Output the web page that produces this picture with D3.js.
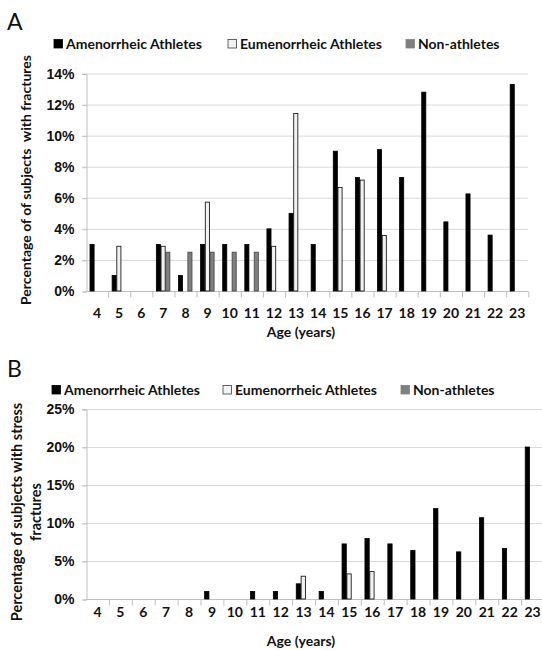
<!DOCTYPE html>
<html>
<head>
<meta charset="utf-8">
<script src="https://cdn.jsdelivr.net/npm/d3@7/dist/d3.min.js"></script>
<style>
  body { margin: 0; background: #fff; }
  svg { display: block; font-family: Lato, "Open Sans", sans-serif; }
  .tick text { font-weight: 700; }
</style>
</head>
<body>
<svg id="chart" width="542" height="650"></svg>
<script>
// categories
var ages = ["4","5","6","7","8","9","10","11","12","13","14","15","16","17","18","19","20","21","22","23"];
var seriesNames = ["Amenorrheic Athletes", "Eumenorrheic Athletes", "Non-athletes"];

// panel A: % of subjects with fractures
var amenA  = [3, 1, 0, 3, 1, 3, 3, 3, 4, 5, 3, 9, 7.3, 9.1, 7.3, 12.8, 4.45, 6.25, 3.6, 13.3];
var eumenA = [0, 2.88, 0, 2.88, 0, 5.72, 0, 0, 2.88, 11.43, 0, 6.67, 7.14, 3.57, 0, 0, 0, 0, 0, 0];
var nonA   = [0, 0, 0, 2.5, 2.5, 2.5, 2.5, 2.5, 0, 0, 0, 0, 0, 0, 0, 0, 0, 0, 0, 0];
var ticksA = [0, 2, 4, 6, 8, 10, 12, 14];

// panel B: % of subjects with stress fractures
var amenB  = [0, 0, 0, 0, 0, 1, 0, 1, 1, 2, 1, 7.25, 7.95, 7.25, 6.4, 11.9, 6.2, 10.7, 6.65, 20];
var eumenB = [0, 0, 0, 0, 0, 0, 0, 0, 0, 3, 0, 3.3, 3.6, 0, 0, 0, 0, 0, 0, 0];
var nonB   = [0, 0, 0, 0, 0, 0, 0, 0, 0, 0, 0, 0, 0, 0, 0, 0, 0, 0, 0, 0];
var ticksB = [0, 5, 10, 15, 20, 25];

var fills   = ["#000000", "#f2f2f2", "#808080"];
var strokes = ["#000000", "#000000", "#404040"];
var fontSize = "14px";

var svg = d3.select("#chart");

function drawPanel(opt) {
    var g = svg.append("g");

    var x0 = d3.scaleBand().domain(ages).range([86, opt.right]).padding(0);
    var x1 = d3.scaleBand().domain(seriesNames).range([0, x0.bandwidth()])
        .paddingInner(0).paddingOuter(0.85);
    var y = d3.scaleLinear().domain([0, opt.max]).range([opt.bottom, opt.top]);

    // gridlines
    g.selectAll(".grid")
        .data(opt.ticks.slice(1))
        .enter()
        .append("line")
        .attr("x1", 82).attr("x2", opt.right)
        .attr("y1", function(d) { return y(d) + 0.5; })
        .attr("y2", function(d) { return y(d) + 0.5; })
        .attr("stroke", "#d9d9d9");

    // y axis
    var yAxis = d3.axisLeft(y).tickValues(opt.ticks).tickSize(4).tickPadding(8)
        .tickFormat(function(d) { return d + "%"; });
    var ya = g.append("g").attr("transform", "translate(86.5,0.5)").call(yAxis);
    ya.select(".domain").attr("stroke", "#bfbfbf");
    ya.selectAll(".tick line").attr("stroke", "#bfbfbf");
    ya.selectAll(".tick text").attr("fill", "#111").style("font-size", fontSize);

    // x axis: ticks at category boundaries
    var xa = g.append("g").attr("transform", "translate(0," + (opt.bottom + 0.5) + ")");
    xa.append("line").attr("x1", 86).attr("x2", opt.right).attr("stroke", "#bfbfbf");
    xa.selectAll(".xtick")
        .data(ages)
        .enter()
        .append("line")
        .attr("x1", function(d) { return x0(d) + x0.bandwidth() + 0.5; })
        .attr("x2", function(d) { return x0(d) + x0.bandwidth() + 0.5; })
        .attr("y1", 0).attr("y2", 6)
        .attr("stroke", "#bfbfbf");
    xa.selectAll(".xlab")
        .data(ages)
        .enter()
        .append("text")
        .attr("x", function(d) { return x0(d) + x0.bandwidth() / 2; })
        .attr("y", opt.xLabelY - opt.bottom)
        .attr("text-anchor", "middle")
        .attr("fill", "#111")
        .style("font-size", fontSize)
        .style("font-weight", 700)
        .text(function(d) { return d; });

    // bars
    var rows = [];
    opt.values.forEach(function(vals, si) {
        vals.forEach(function(v, i) {
            if (v > 0) rows.push({ s: si, age: ages[i], v: v });
        });
    });
    g.selectAll(".bar")
        .data(rows)
        .enter()
        .append("rect")
        .attr("x", function(d) { return x0(d.age) + x1(seriesNames[d.s]); })
        .attr("y", function(d) { return y(d.v); })
        .attr("width", x1.bandwidth() - 0.6)
        .attr("height", function(d) { return y(0) - y(d.v); })
        .attr("fill", function(d) { return fills[d.s]; })
        .attr("stroke", function(d) { return strokes[d.s]; })
        .attr("stroke-width", 0.8);

    // legend
    var lg = g.selectAll(".leg")
        .data(seriesNames)
        .enter()
        .append("g")
        .attr("transform", function(d, i) { return "translate(" + opt.legendX[i] + "," + opt.legendY + ")"; });
    lg.append("rect")
        .attr("x", 0).attr("y", -4.5)
        .attr("width", 8.5).attr("height", 8.5)
        .attr("fill", function(d, i) { return fills[i]; })
        .attr("stroke", function(d, i) { return i == 1 ? "#404040" : fills[i]; })
        .attr("stroke-width", 0.8);
    lg.append("text")
        .attr("x", 12).attr("y", 5)
        .attr("fill", "#111")
        .style("font-size", fontSize)
        .style("font-weight", 700)
        .text(function(d) { return d; });

    // x title
    g.append("text")
        .attr("x", 301).attr("y", opt.xTitleY)
        .attr("text-anchor", "middle")
        .attr("fill", "#111")
        .style("font-size", fontSize)
        .style("font-weight", 700)
        .text("Age (years)");

    // y title
    opt.yTitle.forEach(function(line, i) {
        g.append("text")
            .attr("transform", "translate(" + opt.yTitleX[i] + "," + opt.yTitleY + ") rotate(-90)")
            .attr("text-anchor", "middle")
            .attr("fill", "#111")
            .style("font-size", opt.yTitleSize)
            .style("font-weight", 700)
            .style("white-space", "pre")
            .text(line);
    });

    // panel letter
    g.append("text")
        .attr("x", 7).attr("y", opt.letterY)
        .attr("fill", "#111")
        .style("font-size", "23px")
        .text(opt.letter);
}

drawPanel({
    letter: "A", letterY: 30,
    values: [amenA, eumenA, nonA], ticks: ticksA, max: 14,
    top: 73.5, bottom: 291, right: 528.3,
    legendY: 44, legendX: [54, 228, 406],
    xLabelY: 317, xTitleY: 337,
    yTitle: ["Percentage of of subjects  with fractures"], yTitleX: [31], yTitleY: 180, yTitleSize: "14px"
});

drawPanel({
    letter: "B", letterY: 377,
    values: [amenB, eumenB, nonB], ticks: ticksB, max: 25,
    top: 409, bottom: 599, right: 544,
    legendY: 390, legendX: [52, 223, 401],
    xLabelY: 616, xTitleY: 646,
    yTitle: ["Percentage of subjects with stress", "fractures"], yTitleX: [22, 41], yTitleY: 512, yTitleSize: "14.5px"
});
</script>
</body>
</html>
